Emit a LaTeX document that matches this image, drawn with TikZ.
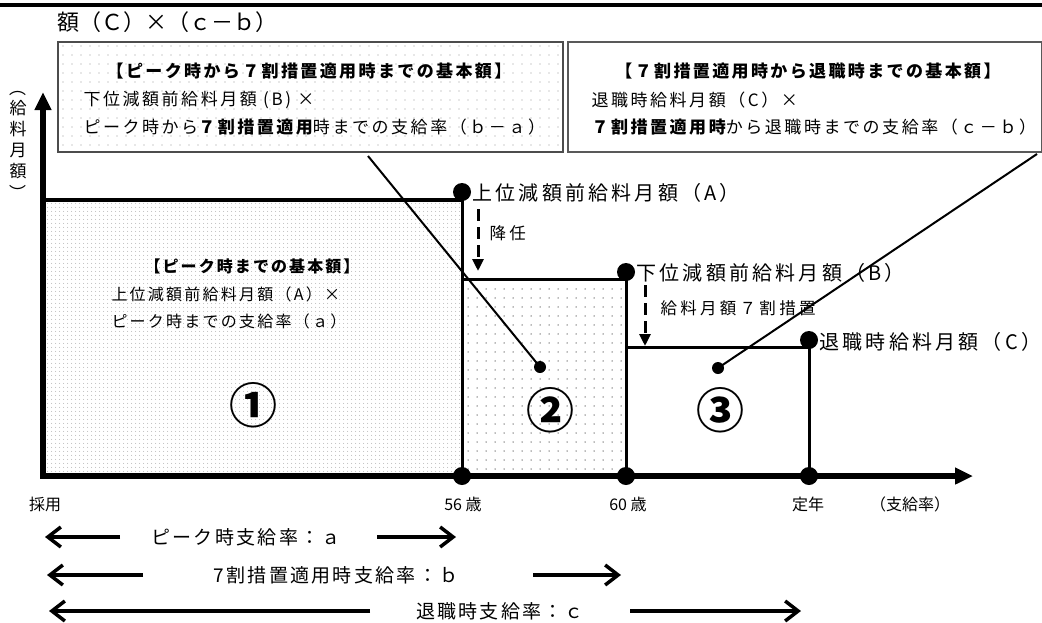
\documentclass[tikz,border=0pt]{standalone}
\usepackage{fontspec}
\usepackage{graphicx}
\setmainfont{Noto Sans CJK JP}
\usetikzlibrary{arrows.meta,patterns.meta}
\newcommand{\fsz}[2]{\fontsize{#1pt}{#2pt}\selectfont}
\newcommand{\vparL}{\rotatebox[origin=c]{-90}{（}}
\newcommand{\vparR}{\rotatebox[origin=c]{-90}{）}}
\begin{document}
\begin{tikzpicture}[x=1pt,y=-1pt,
  line width=3pt,
  bigdot/.style={circle,fill=black,inner sep=0pt,minimum size=18pt},
  smalldot/.style={circle,fill=black,inner sep=0pt,minimum size=12pt},
  boxtxt/.style={inner sep=0pt,font=\fsz{17}{20}\addfontfeatures{LetterSpace=15}},
  boxbold/.style={inner sep=0pt,font=\fsz{17}{20}\addfontfeatures{LetterSpace=14}\bfseries},
  regtxt/.style={inner sep=0pt,font=\fsz{16}{20}\addfontfeatures{LetterSpace=14}},
  regbold/.style={inner sep=0pt,font=\fsz{16}{20}\addfontfeatures{LetterSpace=13}\bfseries},
  anntxt/.style={inner sep=0pt,anchor=west,font=\fsz{20}{24}\addfontfeatures{LetterSpace=16}},
  dashtxt/.style={inner sep=0pt,anchor=west,font=\fsz{16.5}{20}\addfontfeatures{LetterSpace=20}},
  axtxt/.style={inner sep=0pt,font=\fsz{16}{20}},
  bottxt/.style={inner sep=0pt,font=\fsz{19}{22}\addfontfeatures{LetterSpace=12}},
  numtxt/.style={inner sep=0pt,font=\fsz{48}{52}\bfseries},
  axis/.style={line width=5.5pt,line join=miter,
    {Triangle[length=18pt,width=16pt]}-{Triangle[length=18pt,width=16pt]}},
  dasharr/.style={line width=3pt,dash pattern=on 12pt off 6pt,-{Triangle[length=12pt,width=11pt]}},
  barb/.style={line width=3.5pt,-{Straight Barb[length=13pt,width=20pt]}},
  ptr/.style={line width=2pt},
  boxA/.style={draw=black!70,line width=2.2pt,minimum width=505pt,minimum height=110pt,inner sep=0pt,
    pattern={Dots[distance=9pt,radius=0.65pt]},pattern color=black!40},
  boxB/.style={draw=black!65,line width=2pt,minimum width=474pt,minimum height=110pt,inner sep=0pt,fill=white}
]
\useasboundingbox (0,0) rectangle (1042,622);

% top rule and title
\coordinate (tl) at (0,5);
\coordinate (tr) at (1042,5);
\draw[line width=3.5pt] (tl) -- (tr);
\node[inner sep=0pt,anchor=west,font=\fsz{22}{26}] (title) at (56,22) {額（Ｃ）×（ｃ－ｂ）};

% region fills
\fill[pattern={Dots[distance=4pt,radius=0.5pt]},pattern color=black!40] (43,200) rectangle (462,476);
\fill[pattern={Dots[distance=9pt,radius=0.75pt]},pattern color=black!55] (462,279) rectangle (626,476);

% boxes
\node[boxA] (lbox) at (310.5,97) {};
\node[boxB] (rbox) at (804.5,97) {};
\node[boxbold] (l1) at (309,71) {【ピーク時から７割措置適用時までの基本額】};
\node[boxtxt,anchor=west] (l2) at (82,100) {下位減額前給料月額 (B) ×};
\node[boxtxt,anchor=west] (l3) at (82,127) {ピーク時から{\bfseries ７割措置適用}時までの支給率（ｂ－ａ）};
\node[boxbold] (r1) at (808,71) {【７割措置適用時から退職時までの基本額】};
\node[boxtxt,anchor=west] (r2) at (590,100) {退職時給料月額（C）×};
\node[boxtxt,anchor=west] (r3) at (590,127) {{\bfseries ７割措置適用時}から退職時までの支給率（ｃ－ｂ）};

% dots and coordinates
\node[bigdot] (A) at (462,192) {};
\node[bigdot] (B) at (626,272) {};
\node[bigdot] (C) at (809,340) {};
\coordinate (O) at (43,476);
\coordinate (yend) at (43,92);
\coordinate (xend) at (973,476);
\coordinate (yA) at (43,200);
\coordinate (Ab) at (462,200);
\coordinate (Bl) at (462,279);
\coordinate (Bb) at (626,279);
\coordinate (Cl) at (626,347);
\coordinate (Cb) at (809,347);

% step lines
\draw[line width=3.5pt] (yA) -- (Ab);
\draw (Bl) -- (Bb);
\draw (Cl) -- (Cb);
\draw (A.center) -- (462,476);
\draw (B.center) -- (626,476);
\draw (C.center) -- (809,476);

% axes
\draw[axis] (yend) -- (O) -- (xend);
\node[bigdot] (x56) at (462,476) {};
\node[bigdot] (x60) at (626,476) {};
\node[bigdot] (xte) at (809,476) {};

% y label
\node[font=\fsz{17}{21},align=center,inner sep=0pt] (ylab) at (18,140) {\vparL\\給\\料\\月\\額\\\vparR};

% annotations
\node[anntxt] (labA) at (471,193) {上位減額前給料月額（A）};
\node[anntxt] (labB) at (635,273) {下位減額前給料月額（B）};
\node[anntxt] (labC) at (818,342) {退職時給料月額（C）};
\coordinate (d1s) at (478,209);
\coordinate (d1e) at (478,271);
\coordinate (d2s) at (645,285);
\coordinate (d2e) at (645,346);
\draw[dasharr] (d1s) -- (d1e);
\draw[dasharr] (d2s) -- (d2e);
\node[dashtxt] (kounin) at (488,233) {降任};
\node[dashtxt] (nana) at (659,308) {給料月額７割措置};

% region 1 text
\node[regbold] (g1) at (252,266) {【ピーク時までの基本額】};
\node[regtxt,anchor=west] (g2) at (110,294) {上位減額前給料月額（A）×};
\node[regtxt,anchor=west] (g3) at (110,321) {ピーク時までの支給率（ａ）};

% circled numbers
\node[numtxt] (n1) at (253,405) {①};
\node[numtxt] (n2) at (550,410) {②};
\node[numtxt] (n3) at (720,410) {③};

% pointers
\node[smalldot] (p2) at (540,367) {};
\node[smalldot] (p3) at (718,368) {};
\coordinate (lptr) at (368,156);
\coordinate (rptr) at (1037,154);
\draw[ptr] (lptr) -- (p2.center);
\draw[ptr] (rptr) -- (p3.center);

% axis labels
\node[axtxt] (saiyo) at (45,504) {採用};
\node[axtxt] (a56) at (463,504) {56 歳};
\node[axtxt] (a60) at (628,504) {60 歳};
\node[axtxt] (teinen) at (808,504) {定年};
\node[axtxt] (shikyu) at (910,504) {（支給率）};

% bottom rate arrows
\node[bottxt] (ta) at (246,537) {ピーク時支給率：ａ};
\node[bottxt] (tb) at (336,575) {7割措置適用時支給率：ｂ};
\node[bottxt] (tc) at (500,611) {退職時支給率：ｃ};
\coordinate (aL) at (45,537);
\coordinate (aR) at (456,537);
\coordinate (bL) at (47,575);
\coordinate (bR) at (621,575);
\coordinate (cL) at (49,611);
\coordinate (cR) at (801,611);
\draw[barb] (120,537) -- (aL);
\draw[barb] (377,537) -- (aR);
\draw[barb] (143,575) -- (bL);
\draw[barb] (533,575) -- (bR);
\draw[barb] (370,611) -- (cL);
\draw[barb] (630,611) -- (cR);
\end{tikzpicture}
\end{document}
